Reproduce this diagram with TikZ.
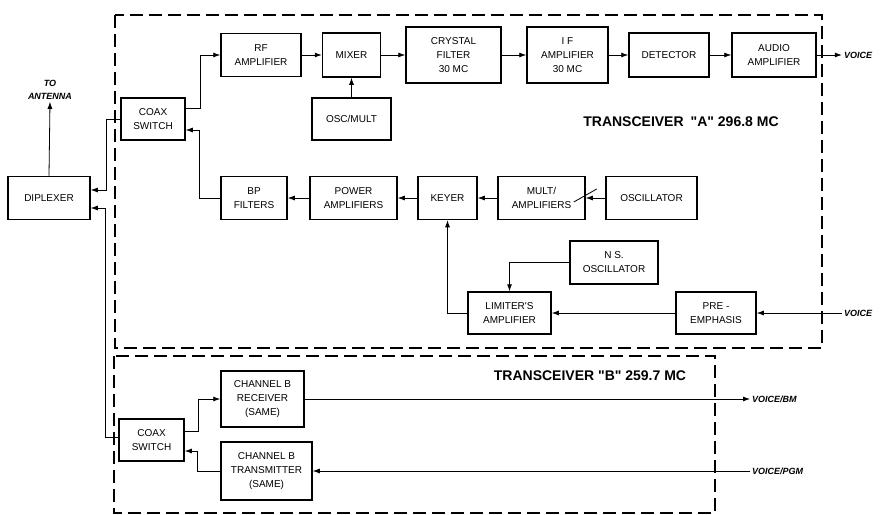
\documentclass[tikz,border=0pt]{standalone}
\usepackage{fontspec}
\setmainfont{Liberation Sans}[Ligatures=TeXOff]
\usetikzlibrary{arrows.meta}

\begin{document}
\begin{tikzpicture}[x=1pt, y=-1pt,
    blk/.style={draw, line width=1.5pt, align=center, inner sep=0pt, font=\fontsize{10}{14}\selectfont},
    sig/.style={line width=0.8pt, -{Latex[length=7pt,width=5pt]}},
    frame/.style={line width=1.8pt, dash pattern=on 13pt off 6pt},
    io/.style={align=center, inner sep=2pt, font=\bfseries\itshape\fontsize{9}{13}\selectfont},
    ttl/.style={font=\bfseries\fontsize{14}{16}\selectfont}]
        \useasboundingbox (0,0) rectangle (880,514);

        % Draw the two transceiver frames
        \draw[frame] (115,15) rectangle (822,348);
        \draw[frame] (114,356) rectangle (715,513);

        % Draw the antenna side
        \node[blk, minimum width=82, minimum height=43] (dip) at (49,198) {DIPLEXER};
        \node[io] (ant) at (50,90) {TO\\ANTENNA};
        \node[blk, minimum width=64, minimum height=42] (coaxA) at (153,119) {COAX\\SWITCH};
        \node[blk, minimum width=65, minimum height=42] (coaxB) at (151.5,440) {COAX\\SWITCH};

        % Draw the receiver chain of transceiver A
        \node[blk, minimum width=80, minimum height=43] (rf) at (261,55) {RF\\AMPLIFIER};
        \node[blk, minimum width=58, minimum height=44] (mix) at (351.5,55) {MIXER};
        \node[blk, minimum width=79, minimum height=42] (oscm) at (351.5,119) {OSC/MULT};
        \node[blk, minimum width=95, minimum height=56] (xtal) at (453.5,55) {CRYSTAL\\FILTER\\30 MC};
        \node[blk, minimum width=81, minimum height=56] (ifa) at (567.5,55) {I F\\AMPLIFIER\\30 MC};
        \node[blk, minimum width=80, minimum height=44] (det) at (669,55) {DETECTOR};
        \node[blk, minimum width=84, minimum height=44] (aud) at (774,55) {AUDIO\\AMPLIFIER};
        \node[io] (vout) at (858,55) {VOICE};

        % Draw the transmitter chain of transceiver A
        \node[blk, minimum width=66, minimum height=43] (bp) at (254,198) {BP\\FILTERS};
        \node[blk, minimum width=87, minimum height=43] (pwr) at (353.5,198) {POWER\\AMPLIFIERS};
        \node[blk, minimum width=59, minimum height=43] (key) at (447.5,198) {KEYER};
        \node[blk, minimum width=87, minimum height=43] (mlt) at (541.5,198) {MULT/\\AMPLIFIERS};
        \node[blk, minimum width=91, minimum height=43] (osc) at (651.5,198) {OSCILLATOR};
        \node[blk, minimum width=88, minimum height=43] (ns) at (614,262.5) {N S.\\OSCILLATOR};
        \node[blk, minimum width=83, minimum height=42] (lim) at (509.5,313) {LIMITER'S\\AMPLIFIER};
        \node[blk, minimum width=80, minimum height=42] (pre) at (716,313) {PRE -\\EMPHASIS};
        \node[io] (vin) at (858,313) {VOICE};

        % Draw transceiver B
        \node[blk, minimum width=83, minimum height=56] (rx) at (262.5,399) {CHANNEL B\\RECEIVER\\(SAME)};
        \node[blk, minimum width=91, minimum height=58] (tx) at (266.5,471) {CHANNEL B\\TRANSMITTER\\(SAME)};
        \node[io, anchor=west] (vbm) at (750,399) {VOICE/BM};
        \node[io, anchor=west] (vpgm) at (750,471) {VOICE/PGM};

        % Titles
        \node[ttl] (ttlA) at (681,122) {TRANSCEIVER\enspace"A" 296.8 MC};
        \node[ttl] (ttlB) at (590,376) {TRANSCEIVER "B" 259.7 MC};

        % Connect the antenna side
        \draw[sig] (dip.north) -- (ant.south);
        \draw[sig] (coaxA.west) -- ++(-14,0) |- ([yshift=8pt]dip.east);
        \draw[sig] ([yshift=3pt]coaxB.west) -- ++(-13,0) |- ([yshift=-10pt]dip.east);
        \draw[sig] ([yshift=11pt]coaxA.east) -- ++(15,0) |- (rf.west);
        \draw[sig] (bp.west) -- ++(-21,0) |- ([yshift=-11pt]coaxA.east);

        % Connect the receiver chain
        \draw[sig] (rf) -- (mix);
        \draw[sig] (oscm) -- (mix);
        \draw[sig] (mix) -- (xtal);
        \draw[sig] (xtal) -- (ifa);
        \draw[sig] (ifa) -- (det);
        \draw[sig] (det) -- (aud);
        \draw[sig] (aud) -- (vout);

        % Connect the transmitter chain
        \draw[sig] (osc) -- (mlt);
        \draw[line width=0.8pt] ([shift={(-12pt,-4pt)}]mlt.east) -- ([shift={(11pt,9pt)}]mlt.east);
        \draw[sig] (mlt) -- (key);
        \draw[sig] (key) -- (pwr);
        \draw[sig] (pwr) -- (bp);
        \draw[sig] (ns.west) -| (lim.north);
        \draw[sig] (lim.west) -| (key.south);
        \draw[sig] (pre) -- (lim);
        \draw[sig] (vin) -- (pre);

        % Connect transceiver B
        \draw[sig] ([yshift=9pt]coaxB.east) -- ++(14,0) |- (rx.west);
        \draw[sig] (tx.west) -- ++(-23,0) |- ([yshift=-11pt]coaxB.east);
        \draw[sig] (rx.east) -- (vbm.west);
        \draw[sig] (vpgm.west) -- (tx.east);
\end{tikzpicture}
\end{document}
